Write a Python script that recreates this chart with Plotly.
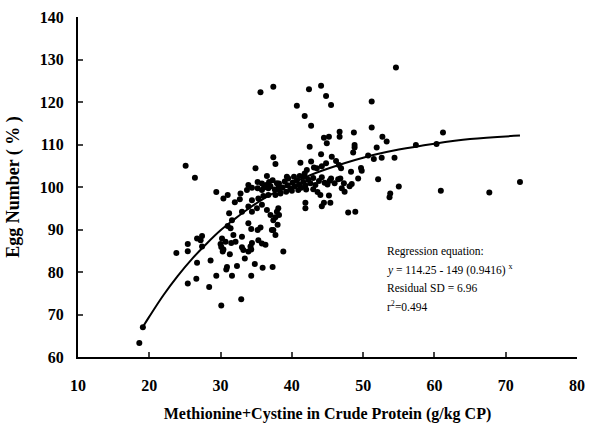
import plotly.graph_objects as go

# Scatter data (Methionine+Cystine g/kg CP, Egg number %)
pts_x = [
    18.6, 19.1,
    23.8, 25.4, 25.4, 27.4, 26.7, 25.4, 26.6, 28.6, 28.4, 29.4, 30.1, 30.1, 30.4, 30.3, 30.0,
    30.9, 30.8, 31.3, 31.5, 32.1, 31.6, 32.3, 32.9, 33.0, 33.2, 33.4, 33.9, 34.2, 34.4, 34.3,
    34.3, 34.8, 35.9, 37.3,
    25.1, 26.4, 37.4, 37.7, 34.9, 29.4, 30.4, 31.0, 32.8, 32.7, 32.0, 33.9, 33.7, 34.4, 35.2,
    35.2, 35.8, 36.5, 36.8, 36.7, 37.3, 37.9, 38.1, 38.4, 37.7, 36.7, 34.4, 35.3, 36.0, 33.9,
    34.4, 35.1, 35.8, 31.2, 31.6, 33.0, 36.5, 37.0, 38.1, 37.9, 37.4, 31.0, 31.4, 33.9, 34.3,
    35.2, 35.6, 37.2, 38.0, 31.8, 33.0, 30.2, 30.7, 26.7, 27.4, 27.2, 35.3, 35.8, 36.3, 37.7,
    54.6, 37.4, 42.4, 44.1, 44.8, 45.5, 40.7, 41.8, 51.2, 42.7, 51.2, 46.7, 46.7, 44.5, 45.2,
    44.9, 48.7, 48.8, 48.8, 48.6, 52.7, 53.3, 51.9, 42.5, 44.1, 45.6, 50.7, 51.5, 52.6, 54.4,
    41.2, 42.7, 43.1, 44.2, 44.8, 46.2, 46.6, 46.9, 43.5, 42.1, 41.8, 41.7, 39.3, 45.5, 48.3,
    49.7, 49.8, 49.3, 46.8, 47.3, 48.1, 52.1, 55.0,
    47.0, 47.4, 48.4, 53.8, 53.7, 44.0, 45.2, 44.5, 44.2, 45.4, 41.9, 41.9, 47.9, 48.9, 38.2,
    37.7, 37.4, 38.8,
    61.2, 57.4, 60.3, 60.9, 67.7, 72.0, 35.6,
    37.0, 37.6, 38.2, 38.7, 39.0, 39.4, 39.8, 40.1, 40.4, 40.7, 41.0, 41.3, 41.6, 41.9, 42.3,
    42.6, 43.0, 43.3, 43.8, 44.2, 38.4, 39.2, 40.0, 40.9, 42.0, 43.0, 39.5, 40.3, 41.1, 36.4,
    35.8, 36.1, 44.6, 45.0, 43.6, 45.3, 46.0, 46.5,
]
pts_y = [
    63.3, 67.0,
    84.5, 86.6, 84.9, 86.0, 82.2, 77.3, 78.4, 82.7, 76.5, 79.1, 72.1, 85.9, 85.3, 84.8, 86.6,
    81.2, 80.6, 84.2, 86.8, 87.1, 79.1, 81.4, 73.6, 85.8, 85.2, 83.2, 84.8, 86.0, 86.8, 85.3,
    79.1, 81.9, 81.0, 81.2,
    105.0, 102.2, 107.0, 105.4, 104.4, 98.8, 97.3, 98.1, 98.5, 97.1, 96.4, 100.5, 99.3, 99.8, 101.2,
    99.7, 99.3, 102.6, 101.2, 99.7, 101.6, 100.9, 99.7, 98.5, 98.1, 98.1, 96.9, 97.3, 97.9, 95.4,
    94.2, 95.0, 95.8, 93.8, 92.2, 94.2, 94.6, 93.4, 95.0, 94.2, 92.2, 90.8, 90.3, 91.5, 90.1,
    89.9, 90.5, 89.9, 91.1, 88.7, 88.3, 87.9, 87.1, 87.9, 88.5, 87.5, 87.5, 86.7, 86.4, 88.7,
    128.1, 123.6, 123.0, 123.8, 121.4, 119.3, 119.1, 116.7, 120.1, 114.4, 114.0, 113.0, 111.8, 111.6, 111.8,
    110.3, 112.8, 109.9, 109.3, 108.1, 111.8, 110.7, 109.3, 109.5, 107.7, 107.1, 107.4, 106.6, 106.9, 106.9,
    105.7, 106.0, 104.6, 104.9, 105.6, 106.1, 105.2, 104.4, 104.4, 104.0, 103.2, 102.4, 102.4, 102.0, 103.6,
    104.5, 103.8, 102.0, 102.0, 100.9, 100.2, 101.8, 100.1,
    99.7, 98.9, 100.7, 98.5, 97.6, 98.1, 98.0, 96.3, 95.5, 96.3, 96.3, 95.0, 94.0, 94.2, 93.4,
    92.9, 89.9, 84.8,
    112.8, 109.9, 110.1, 99.1, 98.7, 101.2, 122.3,
    100.2, 99.4, 100.8, 99.9, 101.3, 100.4, 99.6, 101.0, 100.2, 101.6, 100.6, 99.8, 101.2, 100.4, 101.7,
    100.9, 102.1, 100.5, 101.4, 102.3, 98.7, 98.9, 99.1, 99.3, 99.4, 99.5, 102.0, 102.4, 102.6, 100.5,
    100.8, 99.9, 101.0, 100.6, 98.8, 101.5, 100.9, 101.8,
]

# Fitted regression curve
curve_x = [19, 20, 22, 24, 26, 28, 30, 32, 34, 36, 38, 40, 42, 45, 50, 55, 60, 65, 72]
curve_y = [66.8, 69.5, 74.6, 79.1, 83.1, 86.6, 89.8, 92.5, 95.0, 97.2, 99.1, 100.8,
           102.4, 104.3, 106.9, 108.8, 110.2, 111.3, 112.1]

x_ticks = [10, 20, 30, 40, 50, 60, 70, 80]
y_ticks = [60, 70, 80, 90, 100, 110, 120, 130, 140]

ann_lines = [
    "Regression equation:",
    "<i>y</i> = 114.25 - 149 (0.9416) <sup>x</sup>",
    "Residual SD = 6.96",
    "r<sup>2</sup>=0.494",
]
ann_y = [84.9, 80.5, 76.2, 72.0]

serif = "Liberation Serif, Times New Roman, serif"

fig = go.Figure()
fig.add_trace(go.Scatter(x=pts_x, y=pts_y, mode="markers",
                         marker=dict(color="black", size=6), showlegend=False))
fig.add_trace(go.Scatter(x=curve_x, y=curve_y, mode="lines",
                         line=dict(color="black", width=2), line_shape="spline",
                         showlegend=False))

for t, yy in zip(ann_lines, ann_y):
    fig.add_annotation(x=53.0, y=yy, text=t, showarrow=False, xanchor="left",
                       yanchor="middle", font=dict(family=serif, size=11.5, color="black"))

fig.update_layout(
    width=611, height=423,
    margin=dict(l=78, r=34, t=17, b=66),
    paper_bgcolor="white", plot_bgcolor="white",
    font=dict(family=serif, color="black"),
    xaxis=dict(range=[10, 80], tickvals=x_ticks, ticks="inside", ticklen=5, tickwidth=2,
               showline=True, linewidth=2, linecolor="black", showgrid=False, zeroline=False,
               automargin=False,
               tickfont=dict(family=serif, size=16, color="black", weight="bold"),
               title=dict(text="Methionine+Cystine in Crude Protein (g/kg CP)",
                          font=dict(family=serif, size=16, color="black", weight="bold")),
               ticklabelstandoff=13),
    yaxis=dict(range=[60, 140], tickvals=y_ticks, ticks="inside", ticklen=5, tickwidth=2,
               showline=True, linewidth=2, linecolor="black", showgrid=False, zeroline=False,
               automargin=False,
               tickfont=dict(family=serif, size=16, color="black", weight="bold"),
               title=dict(text="Egg Number ( % )",
                          font=dict(family=serif, size=18, color="black", weight="bold")),
               ticklabelstandoff=9),
)

fig.write_html("out.html")
